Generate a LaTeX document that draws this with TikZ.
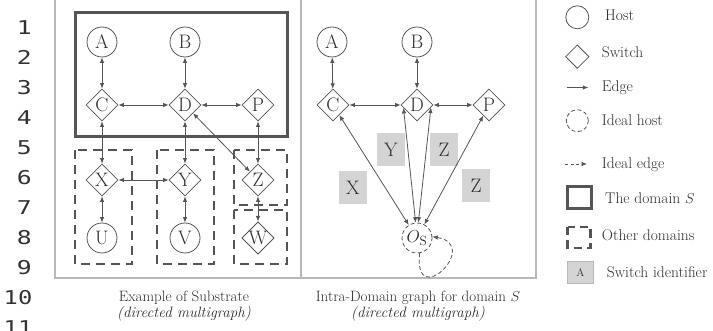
\documentclass[tikz,border=0pt]{standalone}
\usepackage{fontspec}
\usepackage{graphicx}
\newfontfamily\lnumfont{DejaVu Sans Mono}
\usetikzlibrary{shapes.geometric,arrows.meta}
\definecolor{lc}{HTML}{555555}
\definecolor{tc}{HTML}{2E2E2E}
\definecolor{panel}{HTML}{B8B8B8}
\definecolor{idf}{HTML}{D4D4D4}
\definecolor{numc}{HTML}{333333}
\begin{document}
\begin{tikzpicture}[x=1pt,y=-1pt,
  nfont/.style={font=\fontsize{19.5}{19.5}\selectfont},
  host/.style={circle, draw=lc, line width=0.8pt, minimum size=30pt, inner sep=0pt, text=tc, nfont},
  switchnode/.style={diamond, draw=lc, line width=0.8pt, minimum size=32pt, inner sep=0pt, text=tc, nfont},
  idealhost/.style={circle, draw=lc, line width=0.8pt, dash pattern=on 4pt off 2.5pt, minimum size=30pt, inner sep=0pt, text=tc, font=\fontsize{19}{19}\selectfont},
  mytip/.tip={Latex[length=5.5pt,width=4.5pt]},
  biedge/.style={draw=lc, line width=0.8pt, {mytip}-{mytip}},
  oneedge/.style={draw=lc, line width=0.8pt, -{mytip}},
  idealedge/.style={draw=lc, line width=0.8pt, dash pattern=on 4pt off 2.5pt, -{mytip}},
  domainS/.style={draw=lc, line width=3pt},
  otherdom/.style={draw=lc, line width=2.5pt, dash pattern=on 9pt off 6pt},
  panelbox/.style={draw=panel, line width=1.8pt},
  idbox/.style={fill=idf, minimum width=28pt, minimum height=33pt, inner sep=0pt, text=tc, nfont},
  lnum/.style={text=numc, font=\lnumfont\fontsize{19}{19}\selectfont, inner sep=0pt, anchor=base east},
  captext/.style={text=tc, font=\fontsize{15}{16}\selectfont, inner sep=0pt, anchor=base},
  legtext/.style={text=tc, font=\fontsize{15.5}{16}\selectfont, inner sep=0pt, anchor=base west},
  ]
\useasboundingbox (0,0) rectangle (713,331);
\fill[white] (0,0) rectangle (713,331);

% line numbers
\node[lnum] (n1) at (32,35) {\scalebox{1.3}[1]{1}};
\node[lnum] (n2) at (32,65) {\scalebox{1.3}[1]{2}};
\node[lnum] (n3) at (32,95) {\scalebox{1.3}[1]{3}};
\node[lnum] (n4) at (32,125) {\scalebox{1.3}[1]{4}};
\node[lnum] (n5) at (32,155) {\scalebox{1.3}[1]{5}};
\node[lnum] (n6) at (32,185) {\scalebox{1.3}[1]{6}};
\node[lnum] (n7) at (32,215) {\scalebox{1.3}[1]{7}};
\node[lnum] (n8) at (32,245) {\scalebox{1.3}[1]{8}};
\node[lnum] (n9) at (32,275) {\scalebox{1.3}[1]{9}};
\node[lnum] (n10) at (32.5,305) {\scalebox{1.25}[1]{10}};
\node[lnum] (n11) at (32.5,335) {\scalebox{1.25}[1]{11}};

% panels
\draw[panelbox] (55,-10) rectangle (301,278);
\draw[panelbox] (301,-10) rectangle (536,278);

% domain boxes (left)
\draw[domainS] (75,13) rectangle (287,137);
\draw[otherdom] (75,150) rectangle (132,264);
\draw[otherdom] (157,150) rectangle (214,264);
\draw[otherdom] (234,150) rectangle (287,205);
\draw[otherdom] (234,210) rectangle (287,264);

% left nodes
\node[host] (lA) at (102,42) {A};
\node[host] (lB) at (185,42) {B};
\node[switchnode] (lC) at (102,105) {C};
\node[switchnode] (lD) at (185,105) {D};
\node[switchnode] (lP) at (258,105) {P};
\node[switchnode] (lX) at (102,180) {X};
\node[switchnode] (lY) at (185,180) {Y};
\node[switchnode] (lZ) at (258,180) {Z};
\node[host] (lU) at (102,238) {U};
\node[host] (lV) at (185,238) {V};
\node[switchnode] (lW) at (258,238) {W};

\draw[biedge] (lA) -- (lC);
\draw[biedge] (lB) -- (lD);
\draw[biedge] (lC) -- (lD);
\draw[biedge] (lD) -- (lP);
\draw[biedge] (lC) -- (lX);
\draw[biedge] (lD) -- (lY);
\draw[biedge] (lD) -- (lZ);
\draw[biedge] (lP) -- (lZ);
\draw[biedge] (lX) -- (lY);
\draw[biedge] (lX) -- (lU);
\draw[biedge] (lY) -- (lV);
\draw[biedge] (lZ) -- (lW);

% right nodes
\node[host] (rA) at (332,42) {A};
\node[host] (rB) at (417,42) {B};
\node[switchnode] (rC) at (333,105) {C};
\node[switchnode] (rD) at (417,105) {D};
\node[switchnode] (rP) at (489,105) {P};
\node[idealhost] (os) at (417,238) {$O_{\mathrm{S}}$};

\node[idbox] (iY) at (391,150) {Y};
\node[idbox] (iZ1) at (444,150) {Z};
\node[idbox] (iX) at (353,188) {X};
\node[idbox] (iZ2) at (476,186) {Z};

\draw[biedge] (rA) -- (rC);
\draw[biedge] (rB) -- (rD);
\draw[biedge] (rC) -- (rD);
\draw[biedge] (rD) -- (rP);
\draw[biedge] (rC) -- (os);
\draw[biedge] (rD.192) -- (os.95);
\draw[biedge] (rD.350) -- (os.85);
\draw[biedge] (rP) -- (os);
\draw[idealedge] (os.-80) .. controls (413,312) and (482,245) .. (os.5);

% captions
\node[captext] (c1a) at (184,301.7) {Example of Substrate};
\node[captext] (c1b) at (184,318) {\itshape (directed multigraph)};
\node[captext] (c2a) at (418,301.7) {Intra-Domain graph for domain $S$};
\node[captext] (c2b) at (418,318) {\itshape (directed multigraph)};

% legend
\node[host, minimum size=23pt] (gHost) at (577.3,17.3) {};
\node[legtext] (tHost) at (605,20.7) {Host};
\node[switchnode, minimum size=23.5pt] (gSw) at (577.3,56.7) {};
\node[legtext] (tSw) at (601.7,57.3) {Switch};
\coordinate (e1a) at (566.7,87.5);
\coordinate (e1b) at (588.3,87.5);
\draw[oneedge] (e1a) -- (e1b);
\node[legtext] (tEdge) at (601.7,91.7) {Edge};
\node[idealhost, minimum size=22pt] (gIH) at (577.3,120.7) {};
\node[legtext] (tIH) at (601.7,126) {Ideal host};
\coordinate (e2a) at (565,164);
\coordinate (e2b) at (587,164);
\draw[idealedge, dash pattern=on 3pt off 2.5pt] (e2a) -- (e2b);
\node[legtext] (tIE) at (601.7,169) {Ideal edge};
\draw[domainS] (567.5,187) rectangle (591.5,209);
\node[legtext] (tDS) at (605,204) {The domain $S$};
\draw[otherdom, dash pattern=on 8.5pt off 5pt] (567.5,227) rectangle (590.5,248);
\node[legtext] (tOD) at (601.7,241) {Other domains};
\node[fill=idf, draw=panel, line width=0.6pt, minimum width=26pt, minimum height=22pt, inner sep=0pt, text=tc, font=\fontsize{11}{11}\selectfont] (gA) at (580.3,272.8) {A};
\node[legtext] (tSI) at (606.7,277.5) {Switch identifier};
\end{tikzpicture}
\end{document}
